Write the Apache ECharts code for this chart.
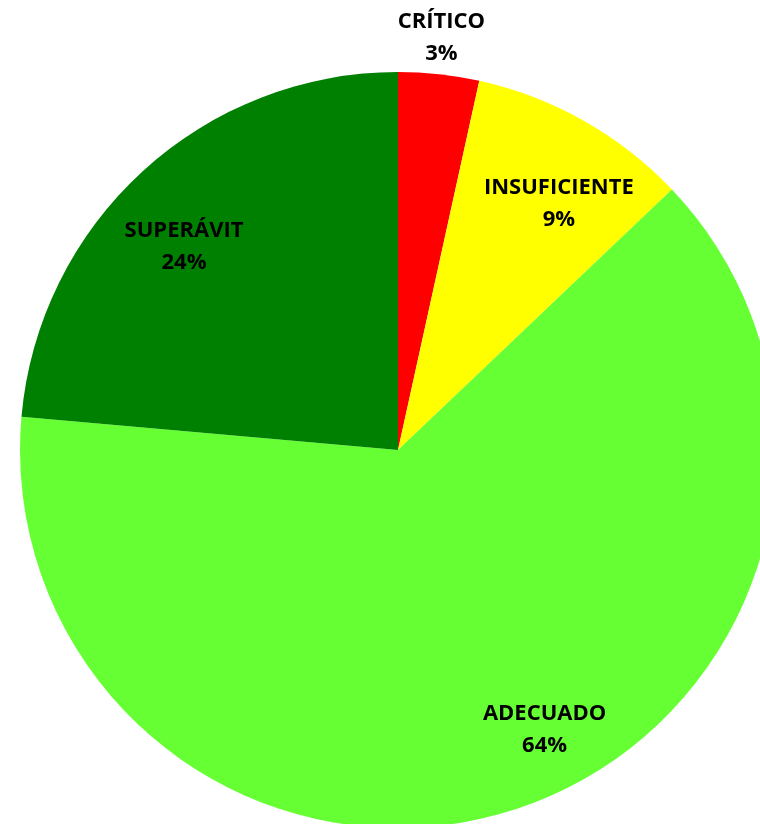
<!DOCTYPE html>
<html>
<head>
<meta charset="utf-8">
<script src="https://cdn.jsdelivr.net/npm/echarts@6/dist/echarts.min.js"></script>
<style>
  html, body { margin: 0; padding: 0; background: #fff; }
  #chart { width: 760px; height: 824px; }
</style>
</head>
<body>
<div id="chart"></div>
<script>
const categories = ['CRÍTICO', 'INSUFICIENTE', 'ADECUADO', 'SUPERÁVIT'];
const values = [3.45, 9.45, 63.5, 23.6];
const colors = ['#FF0000', '#FFFF00', '#66FF33', '#008000'];

// small nudges so the labels sit where Excel's best-fit put them
const labelNudge = {
  0: [-2, 4],
  1: [11, 19],
  2: [46, -8],
  3: [-8, 22]
};

const chart = echarts.init(document.getElementById('chart'));

const center = [398, 450];
const R = 378;

const pieData = categories.map((c, i) => ({
  name: c,
  value: values[i],
  itemStyle: { color: colors[i] }
}));

function labelFmt(p) {
  return p.name + '\n' + Math.round(p.value) + '%';
}

const labelStyle = {
  color: '#000',
  fontFamily: 'Open Sans',
  fontWeight: 'bold',
  fontSize: 22,
  lineHeight: 32,
  formatter: labelFmt
};

// transparent ring that only carries labels
function labelRing(radius, showIdx) {
  return {
    type: 'pie',
    center: center,
    radius: radius,
    startAngle: 90,
    clockwise: true,
    silent: true,
    avoidLabelOverlap: false,
    itemStyle: { color: 'transparent' },
    emphasis: { disabled: true },
    label: Object.assign({ position: 'inside' }, labelStyle),
    labelLine: { show: false },
    labelLayout: p => {
      const n = labelNudge[p.dataIndex];
      return n ? { dx: n[0], dy: n[1] } : {};
    },
    data: categories.map((c, i) => ({
      name: c,
      value: values[i],
      label: { show: showIdx.indexOf(i) >= 0 }
    }))
  };
}

const option = {
  animation: false,
  series: [
    {
      type: 'pie',
      center: center,
      radius: R,
      startAngle: 90,
      clockwise: true,
      silent: true,
      label: { show: false },
      labelLine: { show: false },
      emphasis: { disabled: true },
      data: pieData
    },
    labelRing([264, 340], [1, 2, 3]),
    labelRing([400, 432], [0])
  ]
};

chart.setOption(option);
</script>
</body>
</html>
